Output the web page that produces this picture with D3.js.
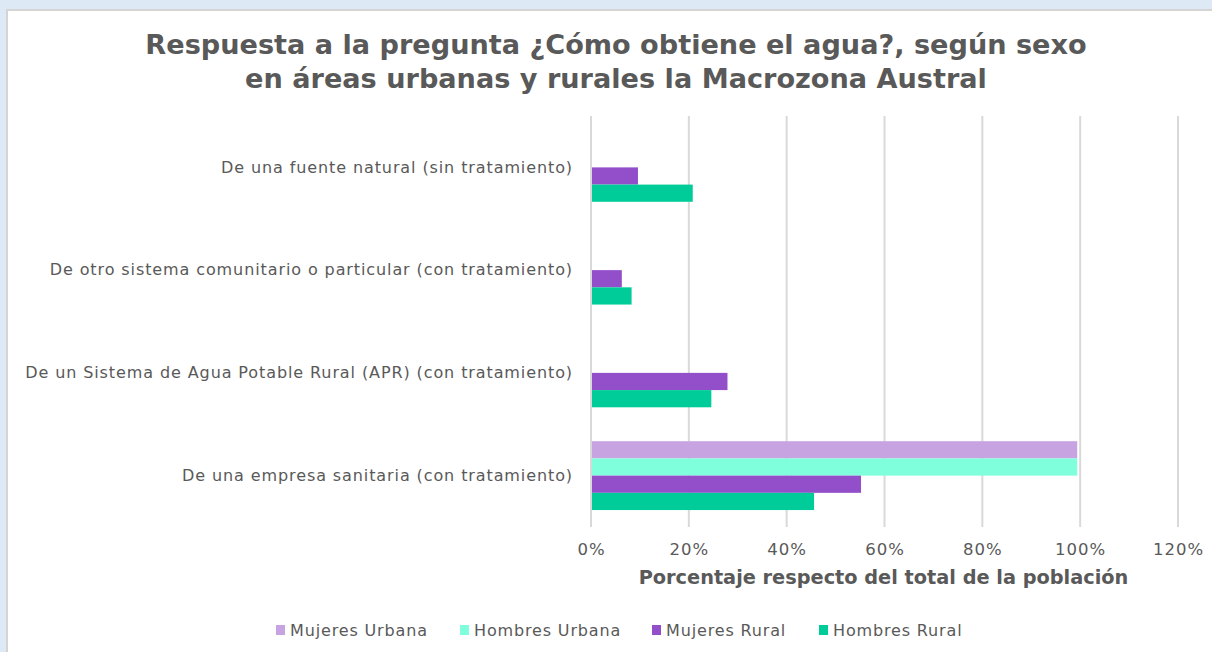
<!DOCTYPE html>
<html>
<head>
<meta charset="utf-8">
<script src="https://cdn.jsdelivr.net/npm/d3@7"></script>
<style>
  html, body { margin: 0; padding: 0; background: #dde9f5; }
  svg { display: block; }
</style>
</head>
<body>
<svg id="chart" width="1212" height="652"></svg>
<script>
// ---- data ----
const categories = [
  "De una fuente natural (sin tratamiento)",
  "De otro sistema comunitario o particular (con tratamiento)",
  "De un Sistema de Agua Potable Rural (APR) (con tratamiento)",
  "De una empresa sanitaria (con tratamiento)"
];
const seriesNames = ["Mujeres Urbana", "Hombres Urbana", "Mujeres Rural", "Hombres Rural"];
const seriesColors = ["#c8a3e2", "#7fffdb", "#934fc9", "#00cc99"];
const mujeresUrbana = [0, 0, 0, 99.4];
const hombresUrbana = [0, 0, 0, 99.4];
const mujeresRural  = [9.6, 6.3, 27.9, 55.2];
const hombresRural  = [20.8, 8.3, 24.6, 45.6];
const xTicks = [0, 20, 40, 60, 80, 100, 120];
const titleLines = [
  "Respuesta a la pregunta ¿Cómo obtiene el agua?, según sexo",
  "en áreas urbanas y rurales la Macrozona Austral"
];
const xAxisTitle = "Porcentaje respecto del total de la población";

const seriesValues = [mujeresUrbana, hombresUrbana, mujeresRural, hombresRural];

const svg = d3.select("#chart");
const font = "'DejaVu Sans', Verdana, sans-serif";
const grey = "#595959";

// panel
svg.append("rect").attr("x", 7).attr("y", 10).attr("width", 1212).attr("height", 652)
  .attr("fill", "#ffffff").attr("stroke", "#d4d4d4").attr("stroke-width", 2);

function fitText(sel, width) {
  const node = sel.node();
  const fs = parseFloat(sel.attr("font-size"));
  const w = node.getComputedTextLength();
  if (w > 0) sel.attr("font-size", fs * width / w);
}

// title
const titleWidths = [942, 742];
titleLines.forEach((t, i) => {
  const tx = svg.append("text")
    .attr("x", 616).attr("y", 54 + i * 34)
    .attr("text-anchor", "middle")
    .attr("font-family", font).attr("font-weight", "bold")
    .attr("font-size", 26).attr("fill", grey)
    .text(t);
  fitText(tx, titleWidths[i]);
});

const margin = { left: 591, right: 1178, top: 116, bottom: 527 };
const x = d3.scaleLinear().domain([0, 120]).range([margin.left, margin.right]);
const y = d3.scaleBand().domain(categories).range([margin.top, margin.bottom]).paddingInner(0.33).paddingOuter(0.165);
const ySub = d3.scaleBand().domain(seriesNames).range([0, y.bandwidth()]);

// gridlines
svg.append("g").selectAll("line").data(xTicks).join("line")
  .attr("x1", d => x(d)).attr("x2", d => x(d))
  .attr("y1", margin.top).attr("y2", margin.bottom)
  .attr("stroke", "#d9d9d9").attr("stroke-width", 2);

// bars
const groups = svg.append("g").selectAll("g").data(categories).join("g")
  .attr("transform", d => `translate(0,${y(d)})`);
groups.selectAll("rect")
  .data((c, ci) => seriesNames.map((s, si) => ({ s, si, v: seriesValues[si][ci] })))
  .join("rect")
  .attr("x", x(0) + 1)
  .attr("y", d => ySub(d.s))
  .attr("width", d => d.v > 0 ? x(d.v) - x(0) - 1 : 0)
  .attr("height", ySub.bandwidth())
  .attr("fill", d => seriesColors[d.si]);

// x axis
const xAxis = d3.axisBottom(x).tickValues(xTicks).tickFormat(d => d + "%").tickSize(0).tickPadding(16);
const gx = svg.append("g").attr("transform", `translate(0,${margin.bottom})`).call(xAxis);
gx.select(".domain").remove();
gx.selectAll("text").attr("font-family", font).attr("font-size", 16.5)
  .attr("letter-spacing", 1).attr("fill", grey);

// y axis
const yAxis = d3.axisLeft(y).tickSize(0).tickPadding(18);
const gy = svg.append("g").attr("transform", `translate(${margin.left},0)`).call(yAxis);
gy.select(".domain").remove();
gy.selectAll("text").attr("font-family", font).attr("font-size", 16)
  .attr("letter-spacing", 0.9).attr("fill", grey);

// axis title
const at = svg.append("text")
  .attr("x", (margin.left + margin.right) / 2 - 1).attr("y", 584)
  .attr("text-anchor", "middle")
  .attr("font-family", font).attr("font-weight", "bold")
  .attr("font-size", 18).attr("fill", grey)
  .text(xAxisTitle);
fitText(at, 490);

// legend
const legendX = [276, 460, 652, 819];
const lg = svg.append("g").selectAll("g").data(seriesNames).join("g")
  .attr("transform", (d, i) => `translate(${legendX[i]},630)`);
lg.append("rect").attr("x", 0).attr("y", -5).attr("width", 9).attr("height", 10)
  .attr("fill", (d, i) => seriesColors[i]);
lg.append("text").attr("x", 14).attr("y", 6)
  .attr("font-family", font).attr("font-size", 16).attr("letter-spacing", 0.85).attr("fill", grey)
  .text(d => d);
</script>
</body>
</html>
